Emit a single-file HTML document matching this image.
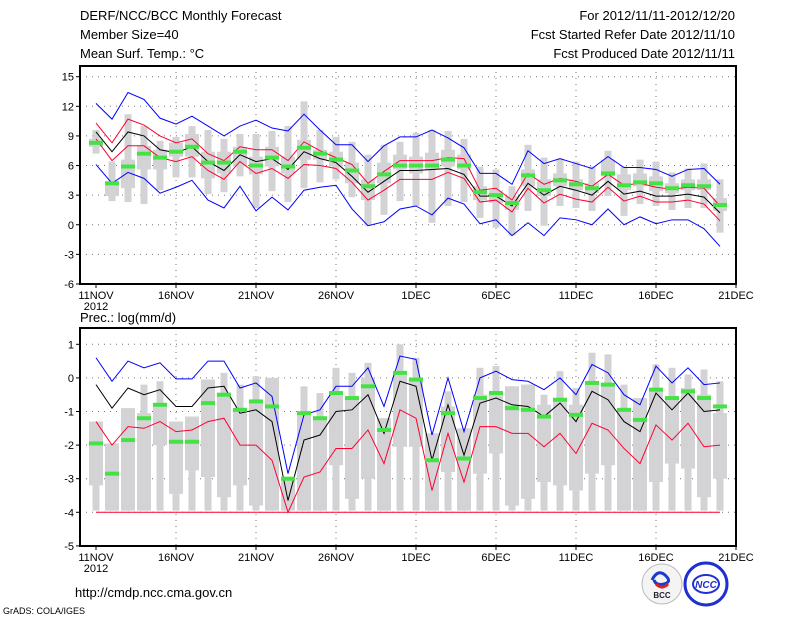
<!DOCTYPE html>
<html><head><meta charset="utf-8"><style>
body{margin:0;background:#fff;width:800px;height:618px;overflow:hidden}
svg{display:block;font-family:"Liberation Sans","DejaVu Sans",sans-serif}
</style></head><body>
<svg id="c" width="800" height="618" xmlns="http://www.w3.org/2000/svg">
<text x="80" y="20" font-size="13">DERF/NCC/BCC Monthly Forecast</text>
<text x="80" y="39" font-size="13">Member Size=40</text>
<text x="80" y="58" font-size="13">Mean Surf. Temp.: °C</text>
<text x="735" y="20" font-size="13" text-anchor="end">For 2012/11/11-2012/12/20</text>
<text x="735" y="39" font-size="13" text-anchor="end">Fcst Started Refer Date 2012/11/10</text>
<text x="735" y="58" font-size="13" text-anchor="end">Fcst Produced Date 2012/11/11</text>
<text x="80" y="322" font-size="13">Prec.: log(mm/d)</text>
<text x="75" y="597" font-size="13">http://cmdp.ncc.cma.gov.cn</text>
<text x="3" y="614" font-size="9">GrADS: COLA/IGES</text>
<g><circle cx="662" cy="584" r="20" fill="#f4f4f4" stroke="#bbb"/><path d="M652 580 q6 -12 14 -4 q6 6 -2 8 q-8 2 -10 -4" fill="none" stroke="#1a3bd0" stroke-width="3"/><path d="M656 584 q6 6 12 0" fill="none" stroke="#e02020" stroke-width="3"/><text x="662" y="598" font-size="8" font-weight="bold" text-anchor="middle" fill="#223">BCC</text></g>
<g><circle cx="706" cy="584" r="21" fill="#fff" stroke="#2030d0" stroke-width="3"/><ellipse cx="706" cy="584" rx="13" ry="9" fill="none" stroke="#2030d0" stroke-width="2"/><text x="706" y="588" font-size="10" font-style="italic" font-weight="bold" text-anchor="middle" fill="#2030d0">NCC</text></g>
<g id="topPanel"></g><g id="botPanel"></g>
</svg>
<script>
const days = 40;
const dateLabels = ["11NOV","16NOV","21NOV","26NOV","1DEC","6DEC","11DEC","16DEC","21DEC"];
const tTicks = [15,12,9,6,3,0,-3,-6];
const pTicks = [1,0,-1,-2,-3,-4,-5];
// Temperature
const tBlueHi = [12.3,10.7,13.4,12.7,10.8,10.2,11.0,10.0,9.0,10.0,10.6,9.8,9.5,11.2,9.6,8.1,8.1,6.4,8.0,8.9,8.9,9.6,8.8,7.8,5.2,5.2,4.1,7.5,6.2,6.7,6.2,5.7,6.9,5.8,5.8,5.6,4.9,5.6,5.7,4.1];
const tRedHi = [10.3,8.3,10.7,10.1,9.0,8.3,8.7,7.2,6.5,7.9,7.6,7.6,6.5,8.4,7.5,6.8,6.1,4.2,5.4,6.5,6.5,6.5,6.8,6.7,3.5,3.7,2.5,5.2,4.1,4.7,4.4,3.9,5.1,4.0,4.2,3.8,3.6,3.8,3.7,1.9];
const tMean = [9.4,7.4,9.4,9.0,7.6,7.3,7.9,6.4,5.5,7.1,6.4,6.7,5.6,7.4,6.7,6.3,4.9,3.3,4.4,5.5,5.5,5.6,5.7,5.1,2.9,2.9,1.9,4.2,3.0,3.9,3.5,3.0,4.4,3.1,3.4,2.9,2.9,3.1,2.8,1.2];
const tRedLo = [8.7,6.5,8.0,8.0,6.8,6.4,6.9,5.5,4.6,6.4,5.2,5.7,4.7,6.1,6.0,5.7,4.3,2.5,3.5,4.6,4.6,4.6,5.3,4.7,2.3,2.5,1.3,3.7,2.2,3.1,2.6,2.3,3.8,2.4,2.9,2.3,2.3,2.5,2.1,0.4];
const tBlueLo = [6.1,4.2,5.3,4.7,3.2,3.8,4.5,2.5,1.7,3.9,1.4,2.8,1.5,3.5,3.8,4.0,1.6,-0.1,0.3,1.6,1.9,1.0,2.7,2.1,0.1,0.5,-1.1,0.2,-1.1,0.7,0.5,0,1.6,0,0.8,0.1,0.5,0.5,-0.4,-2.2];
const tObs = [8.3,4.2,5.9,7.2,6.8,7.4,7.9,6.3,6.3,7.4,6.0,6.8,5.9,7.8,7.2,6.6,5.5,3.9,5.1,6.0,6.0,6.0,6.6,6.0,3.3,3.0,2.2,5.0,3.5,4.5,4.1,3.7,5.2,4.0,4.3,4.2,3.7,4.0,3.9,2.0];
const tMax = [9.6,6.4,11.2,10.0,8.5,8.9,10.0,9.6,8.7,9.2,9.2,9.5,10.0,12.5,9.6,8.9,8.4,7.1,8.1,8.4,9.3,9.6,9.5,8.7,5.9,5.6,3.9,8.1,6.8,6.7,6.4,5.9,7.5,5.9,6.6,6.4,5.3,5.7,6.2,4.6];
const tQ3 = [8.7,4.4,6.6,8.0,7.6,8.3,9.2,7.4,7.4,7.9,6.9,7.9,6.9,8.6,7.6,7.4,6.3,4.6,6.3,7.1,6.9,7.3,7.6,7.1,3.9,3.5,2.9,5.6,4.6,5.2,4.6,4.2,6.6,5.1,5.2,4.9,4.2,4.6,4.6,2.7];
const tQ1 = [7.9,2.9,3.7,5.6,5.6,6.9,6.9,4.7,5.2,5.9,5.1,5.9,5.2,6.6,6.6,5.9,4.2,2.5,4.2,5.6,5.2,5.6,5.9,5.6,2.5,2.2,1.5,3.9,2.9,3.9,3.5,3.2,4.9,3.5,3.9,3.4,3.2,3.5,3.5,1.4];
const tMin = [7.2,2.4,2.3,2.1,3.5,4.8,4.8,3.1,3.3,4.9,1.7,3.4,2.3,3.7,4.3,4.6,2.8,-0.1,1.0,2.4,1.9,0.2,1.9,2.3,0.7,-0.3,-1.1,1.4,-0.1,1.9,1.7,1.4,2.9,0.9,2.1,1.9,1.5,1.7,1.7,-0.8];
// Precipitation
const pBlue = [0.6,-0.1,0.5,0.3,0.45,-0.03,-0.03,0.5,0.5,-0.3,-0.15,-0.55,-2.85,-1.1,-0.95,-0.25,-0.25,0.3,-0.85,0.65,0.55,-1.7,0.0,-1.6,0.0,0.2,-0.05,-0.1,-0.35,0.0,-0.5,0.4,0.15,-0.5,-0.8,0.35,-0.15,0.3,-0.2,-0.15];
const pMean = [-0.2,-0.9,-0.3,-0.5,-0.35,-0.85,-0.85,-0.3,-0.25,-1.05,-0.95,-1.3,-3.65,-1.85,-1.7,-1.0,-0.95,-0.5,-1.65,-0.1,-0.25,-2.45,-0.8,-2.3,-0.75,-0.6,-0.8,-0.85,-1.15,-0.75,-1.3,-0.4,-0.65,-1.3,-1.6,-0.45,-0.95,-0.45,-1.0,-0.95];
const pRed = [-1.3,-2.0,-1.45,-1.5,-1.3,-1.6,-1.55,-1.3,-1.2,-2.0,-2.0,-2.45,-4.0,-2.95,-2.8,-2.1,-2.1,-1.55,-2.55,-0.95,-1.2,-3.35,-1.65,-3.1,-1.45,-1.45,-1.65,-1.65,-2.05,-1.65,-2.25,-1.35,-1.55,-2.1,-2.55,-1.4,-1.85,-1.35,-2.05,-2.0];
const pRedLo = Array(40).fill(-4.0);
const pObs = [-1.95,-2.85,-1.85,-1.2,-0.8,-1.9,-1.9,-0.75,-0.5,-0.95,-0.7,-0.85,-3.0,-1.05,-1.2,-0.45,-0.6,-0.25,-1.55,0.15,-0.05,-2.45,-1.05,-2.4,-0.6,-0.45,-0.9,-0.95,-1.15,-0.65,-1.1,-0.15,-0.2,-0.95,-1.25,-0.35,-0.6,-0.4,-0.6,-0.85];
const pMax = [-1.3,-1.95,-0.9,-0.2,-0.1,-1.3,-1.15,-0.05,0.15,-0.2,0.05,0.0,-3.0,-0.25,-0.45,0.3,0.15,0.45,-1.2,1.0,0.6,-1.65,-0.4,-1.5,0.3,0.35,-0.25,-0.2,-0.5,0.2,-0.3,0.75,0.7,-0.2,-0.6,0.4,0.3,0.1,0.25,-0.1];
const pQ3 = [-1.3,-1.95,-0.9,-1.05,-0.8,-1.3,-1.15,-0.05,-0.55,-0.9,-0.75,0.0,-3.0,-1.0,-1.2,-0.4,-0.55,0.0,-1.2,0.2,0.0,-1.65,-0.85,-1.5,-0.5,-0.4,-0.25,-0.2,-0.8,-0.7,-0.8,-0.1,-0.25,-0.9,-0.6,-0.3,-0.55,-0.3,-0.5,-1.05];
const pQ1 = [-3.2,-3.95,-3.95,-3.95,-2.0,-3.45,-2.75,-2.95,-3.55,-3.2,-3.8,-3.95,-3.95,-3.95,-3.95,-2.6,-3.6,-3.0,-3.95,-2.05,-2.05,-3.95,-2.8,-3.95,-2.85,-2.25,-3.8,-3.6,-3.1,-3.2,-3.35,-2.85,-2.6,-3.95,-3.95,-3.1,-2.55,-2.7,-3.55,-3.0];
const pMin = Array(40).fill(-3.95);

const NS="http://www.w3.org/2000/svg";
function mk(parent,tag,attrs){const e=document.createElementNS(NS,tag);for(const k in attrs)e.setAttribute(k,attrs[k]);parent.appendChild(e);return e;}
const X0=80,X1=736;
function xs(i){return 96+16*i;}

function panel(g,cfg){
  const ys=v=>cfg.y0+(cfg.top-v)*cfg.k;
  const gridG=mk(g,'g',{});
  
  
  cfg.ticks.forEach(t=>{
    const y=ys(t);
    if(t!==cfg.ticks[cfg.ticks.length-1]){mk(gridG,'line',{x1:X0,x2:X1,y1:y,y2:y,stroke:'#777','stroke-dasharray':'1,5','stroke-width':1});}
    mk(g,'line',{x1:X0-4,x2:X0,y1:y,y2:y,stroke:'#000'});
    const tx=mk(g,'text',{x:X0-6,y:y+4,'font-size':11,'text-anchor':'end'});
    tx.textContent=t;
    
    
  });
  dateLabels.forEach((d,j)=>{
    const x=xs(j*5);
    if(j>0&&j<dateLabels.length-1) mk(gridG,'line',{x1:x,x2:x,y1:cfg.fy0,y2:cfg.fy1,stroke:'#777','stroke-dasharray':'1,5'});
    mk(g,'line',{x1:x,x2:x,y1:cfg.fy1,y2:cfg.fy1+4,stroke:'#000'});
    const tx=mk(g,'text',{x:x,y:cfg.fy1+15,'font-size':11,'text-anchor':'middle'});
    tx.textContent=d;
    
    
  });
  const yr=mk(g,'text',{x:xs(0),y:cfg.fy1+26,'font-size':11,'text-anchor':'middle'});
  yr.textContent='2012';
  
  
  const bg=mk(g,'g',{fill:'#d3d3d6'});
  
  
  for(let i=0;i<days;i++){
    const x=xs(i);
    const w=mk(bg,'rect',{x:x-3.5,y:ys(cfg.max[i]),width:7,height:Math.max(0,ys(cfg.min[i])-ys(cfg.max[i]))});
    
    
    const b=mk(bg,'rect',{x:x-7,y:ys(cfg.q3[i]),width:14,height:Math.max(1,ys(cfg.q1[i])-ys(cfg.q3[i]))});
    
    
  }
  cfg.lines.forEach(([arr,col,nm])=>{
    const p=mk(g,'polyline',{points:arr.map((v,i)=>xs(i)+','+ys(v)).join(' '),fill:'none',stroke:col,'stroke-width':1});
    
    
  });
  const og=mk(g,'g',{fill:'#44e344'});
  
  
  cfg.obs.forEach((v,i)=>{
    const r=mk(og,'rect',{x:xs(i)-7,y:ys(v)-2,width:14,height:4});
    
    
  });
  const f=mk(g,'rect',{x:X0,y:cfg.fy0,width:X1-X0,height:cfg.fy1-cfg.fy0,fill:'none',stroke:'#000','stroke-width':2});
  
  
}
const topG=document.getElementById('topPanel');


panel(topG,{name:'temp',ticks:tTicks,top:15,y0:76.7,k:9.87,fy0:66,fy1:284,
  max:tMax,q3:tQ3,q1:tQ1,min:tMin,obs:tObs,
  lines:[[tBlueHi,'#0000ff','temp-max-line'],[tRedHi,'#ff0030','temp-upper-line'],[tMean,'#000','temp-mean-line'],[tRedLo,'#ff0030','temp-lower-line'],[tBlueLo,'#0000ff','temp-min-line']]});
const botG=document.getElementById('botPanel');


panel(botG,{name:'precip',ticks:pTicks,top:1,y0:344.3,k:33.6,fy0:328,fy1:546,
  max:pMax,q3:pQ3,q1:pQ1,min:pMin,obs:pObs,
  lines:[[pBlue,'#0000ff','precip-max-line'],[pMean,'#000','precip-mean-line'],[pRed,'#ff0030','precip-upper-line'],[pRedLo,'#ff0030','precip-lower-line']]});
</script>
</body></html>
